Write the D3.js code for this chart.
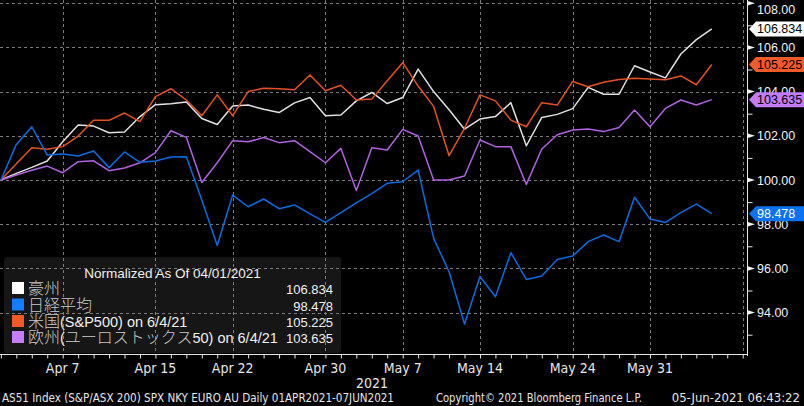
<!DOCTYPE html>
<html><head><meta charset="utf-8">
<script src="https://cdn.jsdelivr.net/npm/d3@7/dist/d3.min.js"></script>
<style>
html,body{margin:0;padding:0;background:#000;}
svg{display:block;}
</style></head>
<body>
<svg id="c" width="804" height="406"></svg>
<script>
// ---- data (weekday sessions, 1 Apr 2021 .. 4 Jun 2021) ----
const dates = ["Apr 1","Apr 2","Apr 5","Apr 6","Apr 7","Apr 8","Apr 9","Apr 12","Apr 13","Apr 14","Apr 15","Apr 16",
  "Apr 19","Apr 20","Apr 21","Apr 22","Apr 23","Apr 26","Apr 27","Apr 28","Apr 29","Apr 30",
  "May 3","May 4","May 5","May 6","May 7","May 10","May 11","May 12","May 13","May 14",
  "May 17","May 18","May 19","May 20","May 21","May 24","May 25","May 26","May 27","May 28",
  "May 31","Jun 1","Jun 2","Jun 3","Jun 4","Jun 7","Jun 8"];
const australia = [100.00,100.30,100.57,100.86,101.73,102.49,102.44,102.14,102.17,102.87,103.41,103.45,
  103.53,102.78,102.51,103.35,103.39,103.20,103.05,103.49,103.73,102.91,
  102.94,103.58,103.96,103.46,103.73,105.02,104.00,103.18,102.30,102.76,
  102.87,103.50,101.55,102.83,102.97,103.23,104.19,103.88,103.88,105.17,
  104.89,104.62,105.70,106.35,106.834];
const nikkei = [100.00,101.61,102.41,101.13,101.18,101.09,101.31,100.56,101.27,100.80,100.86,101.04,
  101.05,99.10,97.04,99.32,98.79,99.14,98.70,98.87,98.47,98.08,
  98.52,98.96,99.38,99.85,99.92,100.45,97.36,95.85,93.48,95.63,
  94.72,96.71,95.50,95.66,96.40,96.56,97.21,97.51,97.21,99.22,
  98.24,98.08,98.52,98.91,98.478];
const sp500 = [100.00,100.74,101.46,101.39,101.51,101.99,102.70,102.70,103.03,102.64,103.77,104.13,
  103.62,102.91,103.85,102.91,104.00,104.15,104.13,104.08,104.75,104.04,
  104.29,103.62,103.66,104.49,105.31,104.25,103.33,101.10,102.34,103.85,
  103.58,102.71,102.41,103.50,103.39,104.46,104.22,104.42,104.55,104.60,
  104.57,104.54,104.71,104.31,105.225];
const euro = [100.00,100.23,100.44,100.63,100.33,100.83,100.87,100.42,100.54,100.78,101.24,102.23,
  101.93,99.89,100.78,101.78,101.73,101.92,101.69,101.78,101.28,100.78,
  101.43,99.52,101.46,101.36,102.29,101.99,100.00,100.00,100.18,101.81,
  101.51,101.51,99.80,101.40,102.05,102.26,102.31,102.19,102.38,103.17,
  102.41,103.24,103.62,103.39,103.635];
const seriesNames = ["豪州","日経平均","米国(S&P500) on 6/4/21","欧州(ユーロストックス50) on 6/4/21"];
const lastValues = ["106.834","98.478","105.225","103.635"];
const xTickLabels = ["Apr 7","Apr 15","Apr 22","Apr 30","May 7","May 14","May 24","May 31"];
const yTicks = [94,96,98,100,102,104,106,108];
const yMinor = [93,95,97,99,101,103,105,107];
const legendTitle = "Normalized As Of 04/01/2021";
const footerLeft = "AS51 Index (S&P/ASX 200) SPX NKY EURO AU  Daily 01APR2021-07JUN2021";
const footerMid = "Copyright\u00A9 2021 Bloomberg Finance L.P.";
const footerRight = "05-Jun-2021 06:43:22";
const yearLabel = "2021";

const lineColors = ["#e2e2e2","#0a6be0","#e5521f","#b062e0"];
const swatchColors = ["#ffffff","#137cff","#f25a2a","#c67cff"];
const tagFill = ["#ffffff","#0b72f2","#f25a2a","#c27cf6"];
const tagText = ["#000","#fff","#000","#000"];
const seriesData = [australia, nikkei, sp500, euro];

// ---- layout ----
const svg = d3.select("#c");
svg.append("rect").attr("width",804).attr("height",406).attr("fill","#000");
const plotRight = 742.7, axisX = 747, axisY = 354;
const x = d3.scaleLinear().domain([0, dates.length-1]).range([0.88, plotRight]);
const y = d3.scaleLinear().domain([92,108]).range([356.8, 3.2]);
const narrow = "'Liberation Sans Narrow','DejaVu Sans Condensed','Arial Narrow',sans-serif";
const sans = "'Liberation Sans',Arial,sans-serif";
const cjk = "'Noto Sans CJK JP','Noto Sans CJK SC',sans-serif";

// legend background (under grid)
svg.append("rect").attr("x",4).attr("y",257).attr("width",337).attr("height",96)
  .attr("rx",3).attr("fill","#161616");

// grid
const grid = svg.append("g").attr("stroke","#7a7a7a").attr("stroke-width",1).attr("stroke-dasharray","3,3");
yTicks.forEach(v=>{
  grid.append("line").attr("x1",0).attr("x2",plotRight).attr("y1",Math.round(y(v))+0.5).attr("y2",Math.round(y(v))+0.5);
});
const gridIdx = xTickLabels.map(l=>dates.indexOf(l)).concat([dates.length-1]);
gridIdx.forEach(i=>{
  const px = Math.round(x(i))+0.5;
  grid.append("line").attr("x1",px).attr("x2",px).attr("y1",0).attr("y2",axisY);
});

// lines
const line = d3.line().x((d,i)=>x(i)).y(d=>y(d));
[0,2,3,1].forEach(k=>{
  svg.append("path").datum(seriesData[k]).attr("d",line).attr("fill","none")
    .attr("stroke",lineColors[k]).attr("stroke-width",1.5).attr("stroke-linejoin","round");
});

// bottom axis
const xAxis = d3.axisBottom(x).tickValues(d3.range(0,dates.length)).tickSize(4).tickFormat("");
const gx = svg.append("g").attr("transform",`translate(0,${axisY+0.5})`).call(xAxis);
gx.select(".domain").attr("stroke","#e8e8e8").attr("d",`M0,0H${axisX}`);
gx.selectAll(".tick line").attr("stroke","#e8e8e8");
xTickLabels.forEach(l=>{
  svg.append("text").attr("x",x(dates.indexOf(l))).attr("y",373).attr("text-anchor","middle")
    .attr("fill","#e6e6e6").attr("font-family",narrow).attr("font-size",14).text(l);
});
svg.append("text").attr("x",372).attr("y",388).attr("text-anchor","middle")
  .attr("fill","#e6e6e6").attr("font-family",narrow).attr("font-size",14).text(yearLabel);

// right axis
const yAxis = d3.axisRight(y).tickValues(yMinor).tickSize(5).tickFormat("");
const gy = svg.append("g").attr("transform",`translate(${axisX+0.5},0)`).call(yAxis);
gy.select(".domain").attr("stroke","#e8e8e8").attr("d",`M0,0V${axisY+2}`);
gy.selectAll(".tick line").attr("stroke","#e8e8e8");
yTicks.forEach(v=>{
  const py = y(v);
  svg.append("path").attr("d",`M${axisX},${py-2.5}L${axisX+8},${py}L${axisX},${py+2.5}Z`).attr("fill","#f0f0f0");
  svg.append("text").attr("x",757).attr("y",Math.max(py+4.5,13.5)).attr("fill","#f2f2f2")
    .attr("font-family",sans).attr("font-size",12.5).text(d3.format(".2f")(v));
});

// value tags
[0,2,3,1].forEach(k=>{
  const v = seriesData[k][seriesData[k].length-1];
  const py = y(v), h = 7.5, x0 = 749;
  svg.append("path").attr("d",`M${x0},${py}L${x0+7},${py-h}L804,${py-h}L804,${py+h}L${x0+7},${py+h}Z`)
    .attr("fill",tagFill[k]);
  svg.append("text").attr("x",757).attr("y",py+4.5).attr("fill",tagText[k])
    .attr("font-family",sans).attr("font-size",12.5).text(lastValues[k]);
});

// legend text
svg.append("text").attr("x",172.5).attr("y",277.5).attr("text-anchor","middle").attr("fill","#f0f0f0")
  .attr("font-family",sans).attr("font-size",13.5).text(legendTitle);
const rowBase = [294,310.5,327,343];
seriesNames.forEach((name,k)=>{
  svg.append("rect").attr("x",12).attr("y",rowBase[k]-12).attr("width",12).attr("height",12).attr("fill",swatchColors[k]);
  const t = svg.append("text").attr("x",28).attr("y",rowBase[k]);
  // split CJK / latin runs
  const runs = name.match(/[\u3000-\u9fff\uff00-\uffef]+|[^\u3000-\u9fff\uff00-\uffef]+/g);
  runs.forEach(r=>{
    const isCjk = /[\u3000-\u9fff\uff00-\uffef]/.test(r);
    t.append("tspan").attr("font-family",isCjk?cjk:sans).attr("fill",isCjk?"#c8c8c8":"#f0f0f0")
      .attr("font-size",isCjk?16:14.5).attr("font-weight",isCjk?300:400).text(r);
  });
  svg.append("text").attr("x",333).attr("y",rowBase[k]).attr("text-anchor","end").attr("fill","#f0f0f0")
    .attr("font-family",sans).attr("font-size",13).text(lastValues[k]);
});

// footer
svg.append("text").attr("x",2).attr("y",402).attr("fill","#e6e6e6").attr("font-family",narrow)
  .attr("font-size",13).attr("textLength",392).attr("lengthAdjust","spacingAndGlyphs").text(footerLeft);
svg.append("text").attr("x",436).attr("y",402).attr("fill","#e6e6e6").attr("font-family",narrow)
  .attr("font-size",13).attr("textLength",206).attr("lengthAdjust","spacingAndGlyphs").text(footerMid);
svg.append("text").attr("x",800).attr("y",402).attr("text-anchor","end").attr("fill","#e6e6e6").attr("font-family",narrow)
  .attr("font-size",13).text(footerRight);
</script>
</body></html>
